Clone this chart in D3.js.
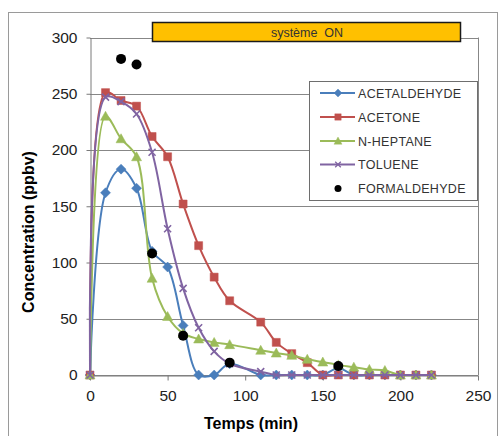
<!DOCTYPE html>
<html>
<head>
<meta charset="utf-8">
<script src="https://cdn.jsdelivr.net/npm/d3@7"></script>
<style>
  body { margin: 0; background: #fff; }
  svg { display: block; font-family: "Liberation Sans", Arial, sans-serif; }
</style>
</head>
<body>
<script>
// Data
var temps = [0, 10, 20, 30, 40, 50, 60, 70, 80, 90, 110, 120, 130, 140, 150, 160, 170, 180, 190, 200, 210, 220];
var acetaldehyde = [0, 162, 183, 166, 110, 96, 44, 0, 0, 10, 0, 0, 0, 0, 0, 6, 0, 0, 0, 0, 0, 0];
var acetone = [0, 251, 244, 239, 212, 194, 152, 115, 87, 66, 47, 29, 19, 11, 0, 0, 0, 0, 0, 0, 0, 0];
var heptane = [0, 230, 210, 194, 86, 52, 37, 32, 29, 27, 22, 19.5, 17.5, 14, 11.5, 9, 7, 5, 4, 0, 0, 0];
var toluene = [0, 247, 243, 232, 198, 130, 77, 42, 21, 10, 3, 0, 0, 0, 0, 0, 0, 0, 0, 0, 0, 0];
var formTemps = [20, 30, 40, 60, 90, 160];
var formaldehyde = [281, 276, 108, 35, 11, 8];
var seriesNames = ["ACETALDEHYDE", "ACETONE", "N-HEPTANE", "TOLUENE", "FORMALDEHYDE"];
var xTicks = [0, 50, 100, 150, 200, 250];
var yTicks = [0, 50, 100, 150, 200, 250, 300];

var width = 498, height = 436;

//Formats
var plot = {left: 90, right: 478, top: 37.5, bottom: 375};

var x = d3.scaleLinear().domain([0, 250]).range([plot.left, plot.right]);
var y = d3.scaleLinear().domain([0, 300]).range([plot.bottom, plot.top]);

var svg = d3.select("body").append("svg")
  .attr("width", width)
  .attr("height", height);

//Outer frame
svg.append("rect")
  .attr("x", 8.5).attr("y", 12.5)
  .attr("width", 489).attr("height", 440)
  .attr("fill", "#fff")
  .attr("stroke", "#9a9a9a");

//Grid
svg.append("g")
  .attr("class", "grid")
  .selectAll("line")
  .data(yTicks)
  .enter().append("line")
  .attr("x1", plot.left).attr("x2", plot.right)
  .attr("y1", function(d) { return Math.round(y(d)) + 0.5; })
  .attr("y2", function(d) { return Math.round(y(d)) + 0.5; })
  .attr("stroke", "#878787");

//Right border of plot
svg.append("line")
  .attr("x1", plot.right + 0.5).attr("x2", plot.right + 0.5)
  .attr("y1", y(300)).attr("y2", plot.bottom)
  .attr("stroke", "#878787");

//Axis
var yAxis = d3.axisLeft(y).tickValues(yTicks).tickSize(4).tickSizeOuter(0).tickPadding(9);
var xAxis = d3.axisBottom(x).tickValues(xTicks).tickSize(5).tickSizeOuter(0).tickPadding(9);

var gy = svg.append("g")
  .attr("transform", "translate(" + (plot.left + 0.5) + ",0)")
  .call(yAxis);
var gx = svg.append("g")
  .attr("transform", "translate(0," + (Math.round(plot.bottom) + 0.5) + ")")
  .call(xAxis);

[gx, gy].forEach(function(g) {
  g.select(".domain").attr("stroke", "#7a7a7a");
  g.selectAll(".tick line").attr("stroke", "#7a7a7a");
  g.selectAll(".tick text")
    .attr("fill", "#222")
    .style("font-size", "15.5px")
    .style("font-family", "'Liberation Sans', Arial, sans-serif");
});

//Axis titles
svg.append("text")
  .attr("transform", "translate(34,232) rotate(-90)")
  .attr("text-anchor", "middle")
  .style("font-size", "16px")
  .style("font-weight", "bold")
  .text("Concentration (ppbv)");

svg.append("text")
  .attr("x", 251).attr("y", 429)
  .attr("text-anchor", "middle")
  .style("font-size", "16px")
  .style("font-weight", "bold")
  .text("Temps (min)");

//Orange "système ON" box
svg.append("rect")
  .attr("x", 152.5).attr("y", 22.5)
  .attr("width", 308).attr("height", 19)
  .attr("fill", "#ffc000")
  .attr("stroke", "#1a1a1a")
  .attr("stroke-width", 1.5);
svg.append("text")
  .attr("x", 307).attr("y", 37)
  .attr("text-anchor", "middle")
  .attr("fill", "#333")
  .style("font-size", "12.5px")
  .style("white-space", "pre")
  .text("système  ON");

//Markers
function markerPath(kind) {
  if (kind == "diamond") return "M0,-5L5,0L0,5L-5,0Z";
  if (kind == "square") return "M-4,-4L4,-4L4,4L-4,4Z";
  if (kind == "triangle") return "M0,-5L5,4L-5,4Z";
  if (kind == "x") return "M-3.5,-3.5L3.5,3.5M-3.5,3.5L3.5,-3.5";
  return null;
}

var series = [
  {name: seriesNames[0], values: acetaldehyde, color: "#4a7ebb", marker: "diamond"},
  {name: seriesNames[1], values: acetone, color: "#c0504d", marker: "square"},
  {name: seriesNames[2], values: heptane, color: "#9bbb59", marker: "triangle"},
  {name: seriesNames[3], values: toluene, color: "#8064a2", marker: "x"}
];

// smooth lines like the spreadsheet, without big overshoot
var line = d3.line()
  .x(function(d) { return x(d.t); })
  .y(function(d) { return y(d.v); })
  .curve(d3.curveCatmullRom.alpha(0.5));

function drawMarker(g, kind, color) {
  var p = g.append("path").attr("d", markerPath(kind));
  if (kind == "x") p.attr("fill", "none").attr("stroke", color).attr("stroke-width", 1.6);
  else p.attr("fill", color).attr("stroke", color).attr("stroke-width", 0.5);
}

series.forEach(function(s) {
  var pts = temps.map(function(t, i) { return {t: t, v: s.values[i]}; });
  var g = svg.append("g").attr("class", "serie");
  g.append("path")
    .datum(pts)
    .attr("d", line)
    .attr("fill", "none")
    .attr("stroke", s.color)
    .attr("stroke-width", 2);
  g.selectAll(".pt")
    .data(pts)
    .enter().append("g")
    .attr("class", "pt")
    .attr("transform", function(d) { return "translate(" + x(d.t) + "," + y(d.v) + ")"; })
    .each(function() { drawMarker(d3.select(this), s.marker, s.color); });
});

//Formaldehyde dots
svg.append("g")
  .selectAll("circle")
  .data(formTemps)
  .enter().append("circle")
  .attr("cx", function(d) { return x(d); })
  .attr("cy", function(d, i) { return y(formaldehyde[i]); })
  .attr("r", 5)
  .attr("fill", "#000");

//Legend
var legend = svg.append("g").attr("class", "legend");
legend.append("rect")
  .attr("x", 309.5).attr("y", 81.5)
  .attr("width", 168).attr("height", 119)
  .attr("fill", "#fff")
  .attr("stroke", "#6e6e6e");

var legendY = [93, 117, 141, 164.5, 188.5];
seriesNames.forEach(function(name, i) {
  var gy = legendY[i];
  if (i < 4) {
    legend.append("line")
      .attr("x1", 320).attr("x2", 355)
      .attr("y1", gy).attr("y2", gy)
      .attr("stroke", series[i].color)
      .attr("stroke-width", 2);
    var m = legend.append("g").attr("transform", "translate(338," + gy + ") scale(0.8)");
    drawMarker(m, series[i].marker, series[i].color);
  } else {
    legend.append("circle")
      .attr("cx", 338).attr("cy", gy).attr("r", 3.5)
      .attr("fill", "#000");
  }
  legend.append("text")
    .attr("x", 358).attr("y", gy)
    .attr("dy", "0.36em")
    .attr("fill", "#333")
    .style("font-size", "12.5px")
    .style("letter-spacing", "0.3px")
    .text(name);
});
</script>
</body>
</html>
